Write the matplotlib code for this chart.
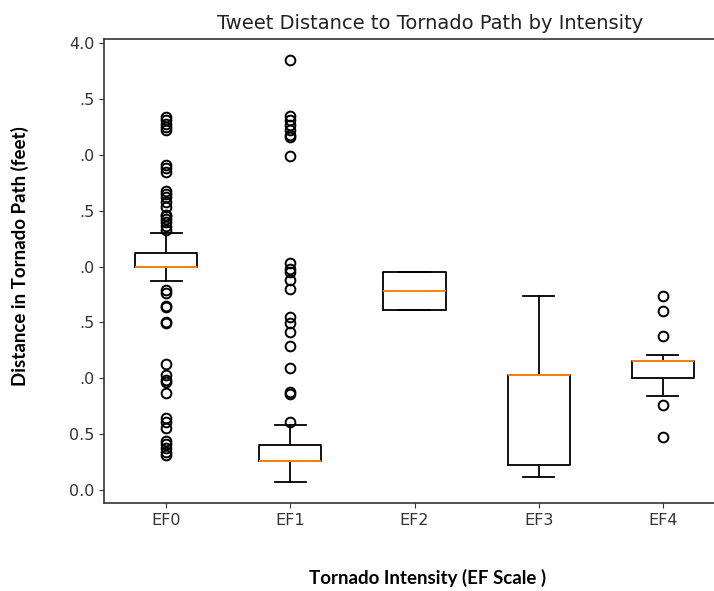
import matplotlib
matplotlib.use("Agg")
from matplotlib import pyplot as plt

# Values
categories = ["EF0", "EF1", "EF2", "EF3", "EF4"]
medians = [2.00, 0.26, 1.78, 1.03, 1.15]
q1 = [2.00, 0.26, 1.61, 0.22, 1.00]
q3 = [2.12, 0.40, 1.95, 1.03, 1.15]
whislo = [1.87, 0.07, 1.61, 0.11, 0.84]
whishi = [2.30, 0.58, 1.95, 1.74, 1.21]
fliers = [
    [3.34, 3.31, 3.28, 3.25, 3.22, 2.91, 2.88, 2.85, 2.68, 2.65, 2.62, 2.58,
     2.53, 2.46, 2.45, 2.43, 2.40, 2.36, 2.33, 1.79, 1.76, 1.65, 1.64, 1.50,
     1.49, 1.13, 1.03, 0.98, 0.965, 0.87, 0.64, 0.61, 0.55, 0.44, 0.41, 0.37,
     0.34, 0.31],
    [3.85, 3.35, 3.31, 3.27, 3.22, 3.18, 3.16, 2.99, 2.03, 1.98, 1.95, 1.88,
     1.80, 1.55, 1.49, 1.41, 1.285, 1.09, 0.875, 0.86, 0.61],
    [],
    [],
    [1.74, 1.60, 1.38, 0.76, 0.47],
]
ytick_values = [0.0, 0.5, 1.0, 1.5, 2.0, 2.5, 3.0, 3.5, 4.0]
ytick_labels = ["0.0", "0.5", ".0", ".5", ".0", ".5", ".0", ".5", "4.0"]


def main() -> None:
    fig = plt.figure(figsize=(7.14, 5.91), dpi=100)
    W, H = 714, 591
    # axes box in pixels: left 104, top 39, right 725 (cut off), bottom 503
    ax = fig.add_axes([104 / W, (H - 503) / H, (725 - 104) / W, (503 - 39) / H])

    stats = []
    for i, name in enumerate(categories):
        stats.append({
            "label": name,
            "med": medians[i],
            "q1": q1[i],
            "q3": q3[i],
            "whislo": whislo[i],
            "whishi": whishi[i],
            "fliers": fliers[i],
        })

    lw = 1.3
    ax.bxp(stats, widths=0.5,
           boxprops=dict(linewidth=lw),
           whiskerprops=dict(linewidth=lw),
           capprops=dict(linewidth=lw),
           flierprops=dict(marker="o", markerfacecolor="none",
                           markeredgecolor="black", markersize=7,
                           markeredgewidth=1.4),
           medianprops=dict(color="#ff7f0e", linewidth=1.4))

    ax.set_xlim(0.5, 5.5)
    ax.set_ylim(-0.12, 4.04)
    ax.set_yticks(ytick_values)
    ax.set_yticklabels(ytick_labels)
    ax.tick_params(labelsize=11.5, colors="#333333")
    for s in ax.spines.values():
        s.set_linewidth(1.2)
        s.set_color("#333333")

    ax.set_title("Tweet Distance to Tornado Path by Intensity", fontsize=14,
                 x=(430 - 104) / (725 - 104), pad=7, color="#222222")

    fig.text(428 / W, 1 - 578 / H, "Tornado Intensity (EF Scale )",
             family="Lato", weight="bold", fontsize=13.5,
             ha="center", va="center")
    fig.text(20 / W, 1 - 256 / H, "Distance in Tornado Path (feet)",
             family="Lato", weight="bold", fontsize=13.5, rotation=90,
             ha="center", va="center")

    fig.savefig("out.png", dpi=100)


if __name__ == "__main__":
    main()
